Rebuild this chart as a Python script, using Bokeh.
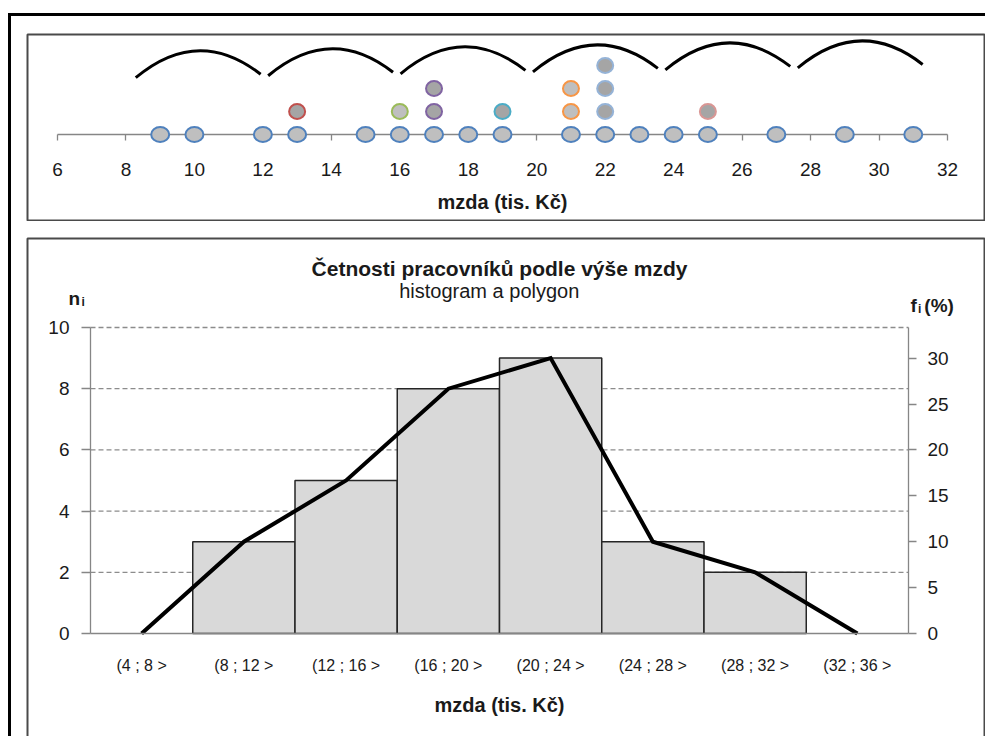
import numpy as np
from bokeh.plotting import figure
from bokeh.layouts import column
from bokeh.models import FixedTicker, LinearAxis, Range1d, Label
from bokeh.embed import file_html
from bokeh.resources import INLINE

FONT = "Liberation Sans"
TXT = "#1a1a1a"
AXIS = "#868686"
PANEL = "#4a4a4a"

# individual wages (tis. Kč) shown in the dot strip
wages = [9, 10, 12, 13, 13, 15, 16, 16, 17, 17, 17, 18, 19, 19,
         21, 21, 21, 22, 22, 22, 22, 23, 24, 25, 25, 27, 29, 31]
strip_ticks = [6, 8, 10, 12, 14, 16, 18, 20, 22, 24, 26, 28, 30, 32]

# class intervals of the frequency table
class_lo = [4, 8, 12, 16, 20, 24, 28, 32]
class_hi = [8, 12, 16, 20, 24, 28, 32, 36]
class_labels = ["(4 ; 8 >", "(8 ; 12 >", "(12 ; 16 >", "(16 ; 20 >",
                "(20 ; 24 >", "(24 ; 28 >", "(28 ; 32 >", "(32 ; 36 >"]
counts = [0, 3, 5, 8, 9, 3, 2, 0]
count_ticks = [0, 2, 4, 6, 8, 10]
pct_ticks = [0, 5, 10, 15, 20, 25, 30]

# outline / fill of the stacked (repeated) dots
stack_line = {13: "#c0504d", 16: "#9bbb59", 17: "#8064a2", 19: "#4bacc6",
              21: "#f79646", 22: "#95b3d7", 25: "#d99694"}
stack_fill = {13: "#a5a5a5", 16: "#bfbfbf", 17: "#a5a5a5", 19: "#a5a5a5",
              21: "#bfbfbf", 22: "#a5a5a5", 25: "#a5a5a5"}


def span(v0, v1, p0, p1, f0, f1):
    """Data range whose frame runs from pixel f0 to f1, given that value v0
    sits at pixel p0 and v1 at pixel p1 (pixels grow to the right / down)."""
    k = (v1 - v0) / (p1 - p0)
    return Range1d(v0 + (f0 - p0) * k, v0 + (f1 - p0) * k)


def style_axis(a, size="19px"):
    a.minor_tick_line_color = None
    a.axis_line_color = AXIS
    a.axis_line_width = 1.3
    a.major_tick_line_color = AXIS
    a.major_tick_line_width = 1.3
    a.major_label_text_font = FONT
    a.major_label_text_font_size = size
    a.major_label_text_color = TXT
    a.axis_label_text_font = FONT
    a.axis_label_text_font_size = "20px"
    a.axis_label_text_font_style = "bold"
    a.axis_label_text_color = TXT


# ---------------------------------------------------------------- dot strip
base_x = []
up_x, up_y, up_line, up_fill = [], [], [], []
seen = {}
for w in wages:
    k = seen.get(w, 0)
    seen[w] = k + 1
    if k == 0:
        base_x.append(w)
    else:
        up_x.append(w)
        up_y.append(k)
        up_line.append(stack_line[w])
        up_fill.append(stack_fill[w])

TW, TH = 959, 188
top = figure(width=TW, height=TH,
             x_range=span(6, 32, 31, 921, 1, TW - 1),
             y_range=span(0, 1, 101, 78, TH - 1, 1),
             output_backend="svg", toolbar_location=None,
             x_axis_location=None, y_axis_location=None,
             min_border=1)
top.min_border_left = top.min_border_right = top.min_border_top = top.min_border_bottom = 1
top.outline_line_color = PANEL
top.outline_line_width = 2
top.grid.visible = False

ax = LinearAxis(fixed_location=0, bounds=(strip_ticks[0], strip_ticks[-1]),
                ticker=FixedTicker(ticks=strip_ticks))
style_axis(ax)
ax.major_tick_in = 0
ax.major_tick_out = 6
ax.major_label_standoff = 22
ax.axis_label = "mzda (tis. Kč)"
ax.axis_label_standoff = 12
top.add_layout(ax, "below")

# braces over the class intervals 8-32
arc_lo = np.array(class_lo[1:7], dtype=float)
arc_hi = np.array(class_hi[1:7], dtype=float)
step = np.arange(len(arc_lo))
ax0 = 0.55 + 0.967 * arc_lo
ax1 = 0.33 + 0.967 * arc_hi
ay0 = 2.47 + 0.085 * step
ay1 = ay0 + 0.15
top.quadratic(x0=ax0, y0=ay0, x1=ax1, y1=ay1, cx=(ax0 + ax1) / 2, cy=ay0 + 2.27,
              line_color="black", line_width=3)

base = top.ellipse(x=base_x, y=[0] * len(base_x), width=18, height=15,
                   width_units="screen", height_units="screen",
                   fill_color="#bfbfbf", line_color="#4f81bd", line_width=2)
base.level = "overlay"
ups = top.ellipse(x=up_x, y=up_y, width=16, height=15,
                  width_units="screen", height_units="screen",
                  fill_color=up_fill, line_color=up_line, line_width=2)
ups.level = "overlay"

# ---------------------------------------------------------------- histogram
total = sum(counts)
mids = [(a + b) / 2 for a, b in zip(class_lo, class_hi)]
pct = [100.0 * c / total for c in counts]
pct_per_count = 100.0 / total

BW, BH = 959, 520
yr = span(0, 10, 396, 90, BH - 1, 1)
bot = figure(width=BW, height=BH,
             x_range=span(class_lo[0], class_hi[-1], 64, 882, 1, BW - 1),
             y_range=yr, output_backend="svg", toolbar_location=None,
             x_axis_location=None, y_axis_location=None, min_border=1)
bot.min_border_left = bot.min_border_right = bot.min_border_top = bot.min_border_bottom = 1
bot.extra_y_ranges = {"pct": Range1d(yr.start * pct_per_count, yr.end * pct_per_count)}
bot.outline_line_color = PANEL
bot.outline_line_width = 2
bot.grid.visible = False

# dashed gridlines at the count ticks
bot.segment(x0=class_lo[0], x1=class_hi[-1], y0=count_ticks[1:], y1=count_ticks[1:],
            line_color="#8c8c8c", line_dash="5 3", line_width=1.3)

nz = [i for i, c in enumerate(counts) if c > 0]
bot.quad(left=[class_lo[i] for i in nz], right=[class_hi[i] for i in nz],
         bottom=0, top=[counts[i] for i in nz],
         fill_color="#d9d9d9", line_color="#262626", line_width=1.5)
bot.line(x=mids, y=pct, y_range_name="pct", line_color="black", line_width=4,
         line_join="miter")

xa = LinearAxis(fixed_location=0, bounds=(class_lo[0], class_hi[-1]),
                ticker=FixedTicker(ticks=mids))
style_axis(xa, "16px")
xa.major_label_overrides = {m: lab for m, lab in zip(mids, class_labels)}
xa.major_tick_in = 0
xa.major_tick_out = 0
xa.major_label_standoff = 23
xa.axis_label = "mzda (tis. Kč)"
xa.axis_label_standoff = 17
bot.add_layout(xa, "below")

ya = LinearAxis(fixed_location=class_lo[0], bounds=(count_ticks[0], count_ticks[-1]),
                ticker=FixedTicker(ticks=count_ticks))
style_axis(ya)
ya.major_tick_in = 0
ya.major_tick_out = 9
ya.major_label_standoff = 12
bot.add_layout(ya, "left")

ra = LinearAxis(y_range_name="pct", fixed_location=class_hi[-1],
                bounds=(0, count_ticks[-1] * pct_per_count),
                ticker=FixedTicker(ticks=pct_ticks))
style_axis(ra)
ra.major_tick_in = 0
ra.major_tick_out = 8
ra.major_label_standoff = 11
bot.add_layout(ra, "right")


def label(fig, x, y, text, size, bold=False, align="left", baseline="alphabetic"):
    fig.add_layout(Label(x=x, y=y, text=text, text_align=align, text_baseline=baseline,
                         text_font=FONT, text_font_size=size, text_color=TXT,
                         text_font_style="bold" if bold else "normal"))


label(bot, 20.0, 11.93, "Četnosti pracovníků podle výše mzdy", "21px", True, "center", "middle")
label(bot, 19.6, 11.2, "histogram a polygon", "20px", False, "center", "middle")
label(bot, 3.14, 10.95, "n", "19px", True)
label(bot, 3.65, 10.82, "i", "12px", True)
label(bot, 36.08, 10.72, "f", "19px", True)
label(bot, 36.37, 10.59, "i", "12px", True)
label(bot, 36.62, 10.72, "(%)", "19px", True)

page = column(top, bot, spacing=16,
              styles={"margin-left": "8px", "margin-top": "13px",
                      "border-left": "3px solid #000", "border-top": "3px solid #000",
                      "padding-left": "15px", "padding-top": "17px"})

open("out.html", "w").write(file_html(page, INLINE))
